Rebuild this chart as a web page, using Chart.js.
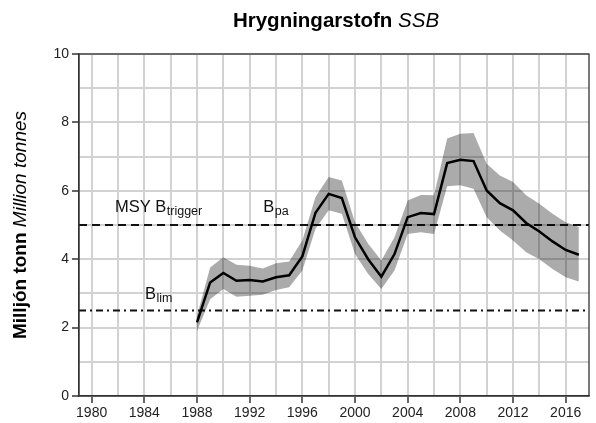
<!DOCTYPE html>
<html>
<head>
<meta charset="utf-8">
<script src="https://cdn.jsdelivr.net/npm/chart.js@4.4.1/dist/chart.umd.min.js"></script>
<style>
  html, body { margin: 0; padding: 0; background: #fff; }
</style>
</head>
<body>
<canvas id="chart" width="596" height="423"></canvas>
<script>
// data
const years = [1988, 1989, 1990, 1991, 1992, 1993, 1994, 1995, 1996, 1997, 1998, 1999, 2000, 2001, 2002,
               2003, 2004, 2005, 2006, 2007, 2008, 2009, 2010, 2011, 2012, 2013, 2014, 2015, 2016, 2017];
const ssb = [2.15, 3.32, 3.6, 3.37, 3.39, 3.35, 3.47, 3.53, 4.08, 5.36, 5.91, 5.79, 4.64, 4.0, 3.49,
             4.15, 5.23, 5.35, 5.32, 6.81, 6.91, 6.87, 6.01, 5.64, 5.43, 5.06, 4.81, 4.52, 4.27, 4.13];
const ssbHigh = [2.35, 3.76, 4.06, 3.84, 3.81, 3.73, 3.88, 3.93, 4.55, 5.82, 6.4, 6.3, 5.08, 4.45, 3.96,
                 4.64, 5.72, 5.88, 5.87, 7.53, 7.67, 7.69, 6.79, 6.45, 6.26, 5.87, 5.62, 5.33, 5.08, 4.94];
const ssbLow = [1.9, 2.83, 3.13, 2.9, 2.93, 2.96, 3.1, 3.18, 3.67, 4.89, 5.43, 5.33, 4.15, 3.57, 3.13,
                3.67, 4.74, 4.79, 4.74, 6.13, 6.16, 6.06, 5.23, 4.84, 4.55, 4.2, 4.0, 3.71, 3.47, 3.35];
const yTicks = [0, 2, 4, 6, 8, 10];
const xTicks = [1980, 1984, 1988, 1992, 1996, 2000, 2004, 2008, 2012, 2016];
const bTrigger = 5;   // MSY Btrigger = Bpa
const bLim = 2.5;

const FONT = '"Liberation Sans", Arial, Helvetica, sans-serif';

function pts(vals) {
  return years.map((y, i) => ({ x: y, y: vals[i] }));
}

// sub-scripted label, e.g. B + "lim"
function subLabel(ctx, x, y, main, sub) {
  ctx.font = '16.5px ' + FONT;
  ctx.fillText(main, x, y);
  const w = ctx.measureText(main).width;
  ctx.font = '12.5px ' + FONT;
  ctx.fillText(sub, x + w + 0.5, y + 3);
}

const decor = {
  id: 'decor',
  beforeDatasetsDraw(chart) {
    const { ctx, chartArea: a, scales: { x, y } } = chart;
    ctx.save();
    ctx.strokeStyle = '#111';
    ctx.lineWidth = 1.8;
    ctx.setLineDash([8, 5]);
    ctx.beginPath();
    ctx.moveTo(a.left, y.getPixelForValue(bTrigger));
    ctx.lineTo(a.right, y.getPixelForValue(bTrigger));
    ctx.stroke();
    ctx.setLineDash([7, 4, 2, 4]);
    ctx.beginPath();
    ctx.moveTo(a.left, y.getPixelForValue(bLim));
    ctx.lineTo(a.right, y.getPixelForValue(bLim));
    ctx.stroke();
    ctx.restore();
  },
  afterDraw(chart) {
    const { ctx, chartArea: a, scales: { x, y } } = chart;
    ctx.save();
    // frame
    ctx.strokeStyle = '#333';
    ctx.lineWidth = 1.3;
    ctx.strokeRect(a.left, a.top, a.right - a.left, a.bottom - a.top);

    // reference line labels
    ctx.fillStyle = '#111';
    ctx.textBaseline = 'alphabetic';
    ctx.textAlign = 'left';
    ctx.font = '16.5px ' + FONT;
    const ty = y.getPixelForValue(5.38);
    ctx.fillText('MSY ', x.getPixelForValue(1981.77), ty);
    subLabel(ctx, x.getPixelForValue(1981.77) + ctx.measureText('MSY ').width, ty, 'B', 'trigger');
    subLabel(ctx, x.getPixelForValue(1993.03), ty, 'B', 'pa');
    subLabel(ctx, x.getPixelForValue(1984.05), y.getPixelForValue(2.85), 'B', 'lim');

    // title: bold + italic
    const t1 = 'Hrygningarstofn ', t2 = 'SSB';
    ctx.fillStyle = '#000';
    ctx.font = 'bold 20.5px ' + FONT;
    const w1 = ctx.measureText(t1).width;
    ctx.font = 'italic 20.5px ' + FONT;
    const w2 = ctx.measureText(t2).width;
    let tx = (a.left + a.right) / 2 + 2 - (w1 + w2) / 2;
    ctx.font = 'bold 20.5px ' + FONT;
    ctx.fillText(t1, tx, 27);
    ctx.font = 'italic 20.5px ' + FONT;
    ctx.fillText(t2, tx + w1, 27);

    // y axis title, rotated
    const s1 = 'Milljón tonn ', s2 = 'Million tonnes';
    ctx.translate(21, (a.top + a.bottom) / 2);
    ctx.rotate(-Math.PI / 2);
    ctx.textBaseline = 'middle';
    ctx.font = 'bold 19px ' + FONT;
    const v1 = ctx.measureText(s1).width;
    ctx.font = 'italic 19px ' + FONT;
    const v2 = ctx.measureText(s2).width;
    ctx.font = 'bold 19px ' + FONT;
    ctx.fillText(s1, -(v1 + v2) / 2, 0);
    ctx.font = 'italic 19px ' + FONT;
    ctx.fillText(s2, -(v1 + v2) / 2 + v1, 0);
    ctx.restore();
  }
};

new Chart(document.getElementById('chart'), {
  type: 'line',
  data: {
    datasets: [
      {
        label: 'high',
        data: pts(ssbHigh),
        borderWidth: 0,
        pointRadius: 0,
        fill: '+1',
        backgroundColor: 'rgba(0,0,0,0.33)'
      },
      {
        label: 'low',
        data: pts(ssbLow),
        borderWidth: 0,
        pointRadius: 0,
        fill: false
      },
      {
        label: 'SSB',
        data: pts(ssb),
        borderColor: '#000',
        borderWidth: 2.5,
        pointRadius: 0,
        fill: false
      }
    ]
  },
  options: {
    responsive: false,
    animation: false,
    layout: { padding: { top: 54, right: 7, left: 0, bottom: 0 } },
    plugins: {
      legend: { display: false },
      title: { display: false },
      tooltip: { enabled: false }
    },
    scales: {
      x: {
        type: 'linear',
        min: 1979.04,
        max: 2017.77,
        afterFit: s => { s.height = 27; },
        ticks: {
          stepSize: 2,
          includeBounds: false,
          autoSkip: false,
          maxRotation: 0,
          padding: 2,
          color: '#222',
          font: { family: FONT, size: 14 },
          callback: v => xTicks.includes(v) ? String(v) : ''
        },
        grid: {
          color: '#d2d2d2',
          lineWidth: 2,
          tickLength: 7,
          tickWidth: 1.5,
          tickColor: c => (c.tick && xTicks.includes(c.tick.value)) ? '#333' : 'rgba(0,0,0,0)'
        },
        border: { color: '#333', width: 1.3 }
      },
      y: {
        min: 0,
        max: 10,
        afterFit: s => { s.width = 79; },
        ticks: {
          stepSize: 1,
          autoSkip: false,
          padding: 3,
          color: '#222',
          font: { family: FONT, size: 14 },
          callback: v => yTicks.includes(v) ? String(v) : ''
        },
        grid: {
          color: '#d2d2d2',
          lineWidth: 2,
          tickLength: 7,
          tickWidth: 1.5,
          tickColor: c => (c.tick && yTicks.includes(c.tick.value)) ? '#333' : 'rgba(0,0,0,0)'
        },
        border: { color: '#333', width: 1.3 }
      }
    }
  },
  plugins: [decor]
});
</script>
</body>
</html>
